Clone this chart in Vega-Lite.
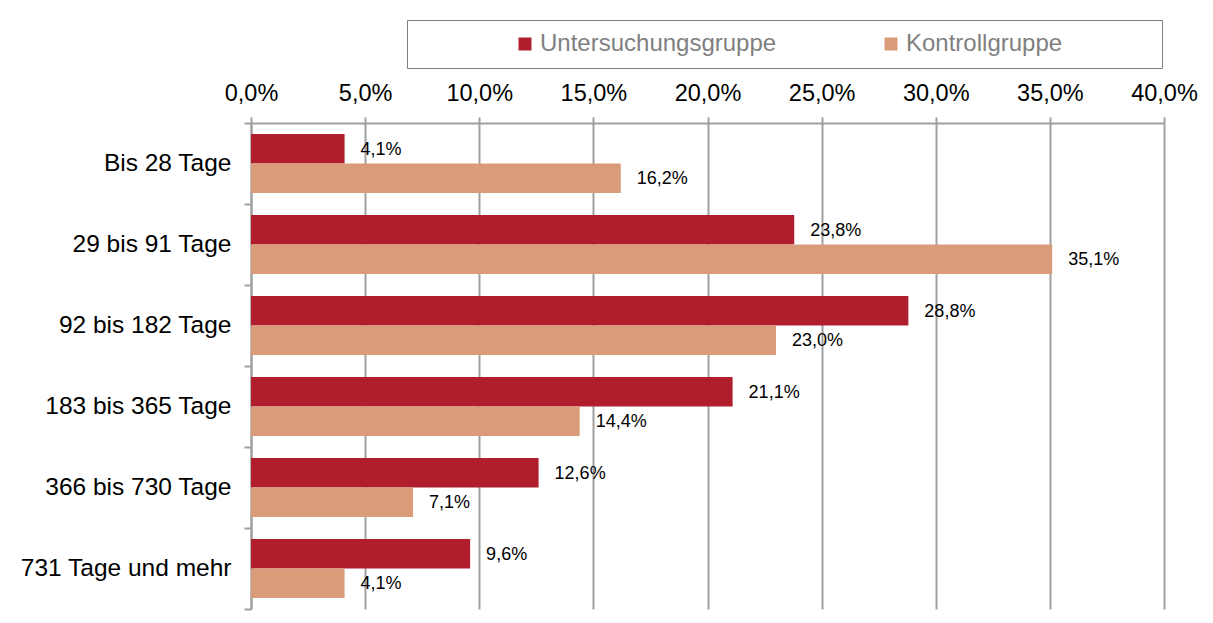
{
  "$schema": "https://vega.github.io/schema/vega-lite/v6.json",
  "width": 913,
  "height": 486,
  "autosize": {"type": "none"},
  "padding": {"left": 251, "top": 123, "right": 49, "bottom": 14},
  "background": "white",
  "data": {
    "values": [
      {"kategorie": "Bis 28 Tage", "gruppe": "Untersuchungsgruppe", "anteil": 0.041},
      {"kategorie": "Bis 28 Tage", "gruppe": "Kontrollgruppe", "anteil": 0.162},
      {"kategorie": "29 bis 91 Tage", "gruppe": "Untersuchungsgruppe", "anteil": 0.238},
      {"kategorie": "29 bis 91 Tage", "gruppe": "Kontrollgruppe", "anteil": 0.351},
      {"kategorie": "92 bis 182 Tage", "gruppe": "Untersuchungsgruppe", "anteil": 0.288},
      {"kategorie": "92 bis 182 Tage", "gruppe": "Kontrollgruppe", "anteil": 0.230},
      {"kategorie": "183 bis 365 Tage", "gruppe": "Untersuchungsgruppe", "anteil": 0.211},
      {"kategorie": "183 bis 365 Tage", "gruppe": "Kontrollgruppe", "anteil": 0.144},
      {"kategorie": "366 bis 730 Tage", "gruppe": "Untersuchungsgruppe", "anteil": 0.126},
      {"kategorie": "366 bis 730 Tage", "gruppe": "Kontrollgruppe", "anteil": 0.071},
      {"kategorie": "731 Tage und mehr", "gruppe": "Untersuchungsgruppe", "anteil": 0.096},
      {"kategorie": "731 Tage und mehr", "gruppe": "Kontrollgruppe", "anteil": 0.041}
    ]
  },
  "encoding": {
    "y": {
      "field": "kategorie",
      "type": "nominal",
      "sort": null,
      "title": null,
      "scale": {"paddingInner": 0, "paddingOuter": 0},
      "axis": {
        "orient": "left",
        "tickBand": "extent",
        "tickSize": 7,
        "tickColor": "#a0a0a0",
        "tickWidth": 2,
        "domainColor": "#a0a0a0",
        "domainWidth": 2,
        "labelFont": "Liberation Sans",
        "labelFontSize": 24.5,
        "labelColor": "#000000",
        "labelPadding": 13,
        "labelLimit": 300,
        "grid": false
      }
    },
    "yOffset": {
      "field": "gruppe",
      "type": "nominal",
      "sort": ["Untersuchungsgruppe", "Kontrollgruppe"],
      "scale": {"paddingInner": 0, "paddingOuter": 0.37}
    },
    "x": {
      "field": "anteil",
      "type": "quantitative",
      "title": null,
      "scale": {"domain": [0, 0.4], "nice": false},
      "axis": {
        "orient": "top",
        "values": [0, 0.05, 0.1, 0.15, 0.2, 0.25, 0.3, 0.35, 0.4],
        "labelExpr": "replace(format(datum.value, '.1%'), '.', ',')",
        "grid": true,
        "gridColor": "#a0a0a0",
        "gridWidth": 2,
        "tickSize": 6,
        "tickColor": "#a0a0a0",
        "tickWidth": 2,
        "domainColor": "#a0a0a0",
        "domainWidth": 2,
        "labelFont": "Liberation Sans",
        "labelFontSize": 23.5,
        "labelColor": "#000000",
        "labelPadding": 12,
        "labelFlush": false
      }
    }
  },
  "layer": [
    {
      "mark": {"type": "bar", "cornerRadius": 0},
      "encoding": {
        "color": {
          "field": "gruppe",
          "type": "nominal",
          "sort": ["Untersuchungsgruppe", "Kontrollgruppe"],
          "scale": {"domain": ["Untersuchungsgruppe", "Kontrollgruppe"], "range": ["#B01E2E", "#D99B7A"]},
          "legend": {
            "orient": "none",
            "direction": "horizontal",
            "columns": 2,
            "legendX": 156,
            "legendY": -103,
            "title": "\u00a0",
            "titleOrient": "right",
            "titleFontSize": 2,
            "titleColor": "white",
            "titlePadding": 88,
            "strokeColor": "#7f7f7f",
            "fillColor": "white",
            "padding": 12,
            "symbolOffset": 94,
            "columnPadding": 8,
            "symbolType": "square",
            "symbolSize": 169,
            "symbolStrokeWidth": 0,
            "symbolOpacity": 1,
            "labelFont": "Liberation Sans",
            "labelFontSize": 24,
            "labelColor": "#7f7f7f",
            "labelOffset": 3,
            "labelLimit": 400
          }
        }
      }
    },
    {
      "transform": [
        {"calculate": "replace(format(datum.anteil, '.1%'), '.', ',')", "as": "beschriftung"}
      ],
      "mark": {"type": "text", "align": "left", "baseline": "middle", "dx": 16, "dy": 1, "font": "Liberation Sans", "fontSize": 18, "color": "#000000"},
      "encoding": {
        "text": {"field": "beschriftung", "type": "nominal"}
      }
    }
  ],
  "config": {
    "view": {"stroke": null}
  }
}
